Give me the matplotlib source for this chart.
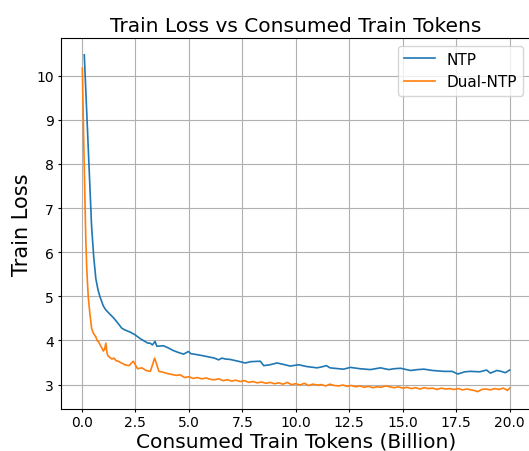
import matplotlib.pyplot as plt
import numpy as np

# Data
ntp_tokens = [0.11, 0.45, 0.55, 0.65, 0.75, 0.85, 0.92, 1.0, 1.12, 1.3, 1.5, 1.7, 1.86,
              2.0, 2.25, 2.48, 2.7, 2.87, 3.08, 3.18, 3.3, 3.42, 3.5, 3.81, 4.0, 4.28,
              4.5, 4.75, 4.98, 5.1, 5.37, 5.7, 6.0, 6.2, 6.39, 6.54, 6.7, 6.93, 7.3,
              7.63, 7.9, 8.34, 8.5, 8.8, 9.12, 9.4, 9.74, 10.13, 10.5, 10.99, 11.2,
              11.43, 11.6, 12.0, 12.24, 12.55, 13.0, 13.49, 13.96, 14.35, 14.6, 14.9,
              15.36, 15.7, 15.99, 16.4, 16.92, 17.31, 17.58, 17.9, 18.17, 18.6, 18.92,
              19.1, 19.4, 19.6, 19.8, 20.0]
ntp_loss = [10.47, 6.6, 5.9, 5.4, 5.15, 4.98, 4.89, 4.78, 4.69, 4.6, 4.5, 4.38, 4.28,
            4.24, 4.19, 4.13, 4.05, 4.00, 3.94, 3.94, 3.90, 3.98, 3.87, 3.88, 3.84, 3.77,
            3.73, 3.69, 3.75, 3.70, 3.68, 3.65, 3.62, 3.60, 3.56, 3.60, 3.58, 3.57, 3.53,
            3.49, 3.52, 3.53, 3.43, 3.45, 3.49, 3.46, 3.42, 3.45, 3.41, 3.38, 3.40,
            3.43, 3.38, 3.36, 3.35, 3.39, 3.36, 3.34, 3.38, 3.34, 3.36, 3.37,
            3.32, 3.34, 3.35, 3.32, 3.30, 3.30, 3.24, 3.29, 3.30, 3.29, 3.33,
            3.26, 3.32, 3.30, 3.27, 3.33]

dual_tokens = [0.02, 0.08, 0.14, 0.18, 0.22, 0.26, 0.30, 0.37, 0.45, 0.52, 0.58, 0.65,
               0.72, 0.77, 0.85, 0.92, 1.0, 1.06, 1.12, 1.17, 1.22, 1.3, 1.4, 1.5, 1.6,
               1.7, 1.8, 1.9, 2.0, 2.2, 2.4, 2.6, 2.8, 3.0, 3.2, 3.4, 3.6, 3.8, 4.0,
               4.2, 4.4, 4.6, 4.8, 5.0, 5.2, 5.4, 5.6, 5.8, 6.0, 6.2, 6.4, 6.6, 6.8,
               7.0, 7.2, 7.4, 7.6, 7.8, 8.0, 8.2, 8.4, 8.6, 8.8, 9.0, 9.2, 9.4, 9.6,
               9.8, 10.0, 10.2, 10.4, 10.6, 10.8, 11.0, 11.2, 11.4, 11.6, 11.8, 12.0,
               12.2, 12.4, 12.6, 12.8, 13.0, 13.2, 13.4, 13.6, 13.8, 14.0, 14.2, 14.4,
               14.6, 14.8, 15.0, 15.2, 15.4, 15.6, 15.8, 16.0, 16.2, 16.4, 16.6, 16.8,
               17.0, 17.2, 17.4, 17.6, 17.8, 18.0, 18.2, 18.4, 18.5, 18.7, 18.9, 19.1,
               19.3, 19.5, 19.7, 19.9, 20.0]
dual_loss = [10.17, 8.6, 7.2, 6.3, 5.7, 5.3, 4.96, 4.62, 4.28, 4.18, 4.13, 4.08,
             3.99, 3.98, 3.90, 3.84, 3.76, 3.80, 3.94, 3.72, 3.65, 3.62, 3.58, 3.60, 3.54,
             3.53, 3.50, 3.48, 3.45, 3.43, 3.53, 3.36, 3.38, 3.32, 3.30, 3.60, 3.30, 3.28,
             3.25, 3.23, 3.21, 3.22, 3.16, 3.18, 3.14, 3.16, 3.13, 3.15, 3.12, 3.11, 3.13,
             3.09, 3.11, 3.08, 3.10, 3.07, 3.09, 3.05, 3.07, 3.04, 3.06, 3.03, 3.05, 3.02,
             3.04, 3.01, 3.05, 3.00, 3.02, 2.99, 3.03, 2.98, 3.01, 2.99, 3.00, 2.97, 3.01,
             2.98, 2.97, 2.99, 2.96, 2.98, 2.95, 2.97, 2.94, 2.96, 2.93, 2.95, 2.94, 2.97,
             2.95, 2.93, 2.95, 2.92, 2.94, 2.91, 2.93, 2.90, 2.93, 2.91, 2.92, 2.89, 2.92,
             2.90, 2.91, 2.89, 2.91, 2.88, 2.90, 2.88, 2.86, 2.84, 2.89, 2.90, 2.88,
             2.91, 2.89, 2.92, 2.87, 2.92]

plt.rcParams['xtick.major.size'] = 2.5
plt.rcParams['ytick.major.size'] = 2.5
plt.rcParams['xtick.major.pad'] = 2.5
plt.rcParams['ytick.major.pad'] = 2.5

fig = plt.figure(figsize=(5.29, 4.52), dpi=100)
ax = fig.add_axes([0.1153, 0.094, 0.8885, 0.8197])

ax.plot(ntp_tokens, ntp_loss, color='#1f77b4', linewidth=1.2, label='NTP')
ax.plot(dual_tokens, dual_loss, color='#ff7f0e', linewidth=1.2, label='Dual-NTP')

ax.set_xlabel('Consumed Train Tokens (Billion)', fontsize=14.5, labelpad=1.5)
ax.set_ylabel('Train Loss', fontsize=15, labelpad=3)
ax.set_title('Train Loss vs Consumed Train Tokens', fontsize=14.5, pad=5)
ax.set_xticks([0, 2.5, 5, 7.5, 10, 12.5, 15, 17.5, 20])
ax.tick_params(labelsize=10)
ax.legend(loc='upper right', fontsize=11)
ax.grid(True)

plt.savefig('out.png', dpi=100)
